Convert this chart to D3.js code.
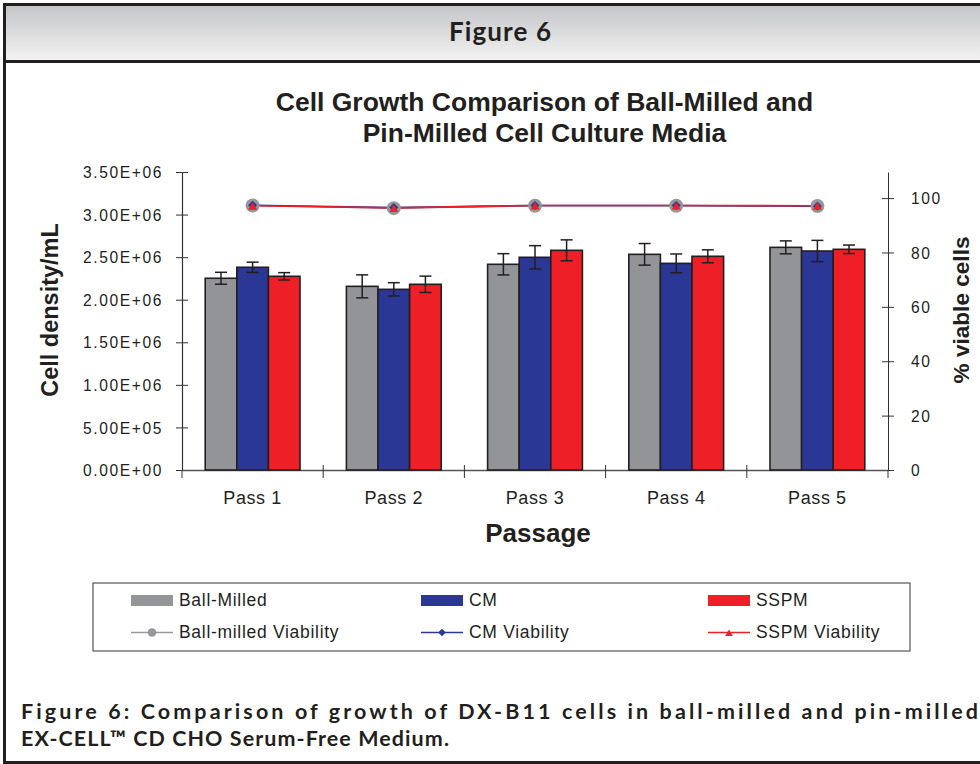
<!DOCTYPE html>
<html><head><meta charset="utf-8">
<script src="https://cdn.jsdelivr.net/npm/d3@7"></script>
<style>body{margin:0;background:#fff}svg{display:block}</style>
</head><body>
<svg id="c" width="980" height="764"></svg>
<script>
const categories = ["Pass 1","Pass 2","Pass 3","Pass 4","Pass 5"];
const seriesNames = ["Ball-Milled","CM","SSPM"];
const ballMilled = [2.252e6, 2.157e6, 2.416e6, 2.533e6, 2.615e6];
const cm         = [2.381e6, 2.122e6, 2.498e6, 2.427e6, 2.572e6];
const sspm       = [2.275e6, 2.181e6, 2.580e6, 2.510e6, 2.592e6];
const ballErr = [0.070e6, 0.135e6, 0.125e6, 0.127e6, 0.076e6];
const cmErr   = [0.060e6, 0.078e6, 0.137e6, 0.110e6, 0.125e6];
const sspmErr = [0.043e6, 0.096e6, 0.123e6, 0.076e6, 0.050e6];
const ballViab = [97.3, 96.3, 97.2, 97.2, 97.1];
const cmViab   = [97.4, 96.5, 97.3, 97.3, 97.0];
const sspmViab = [97.2, 96.4, 97.3, 97.3, 97.2];
const leftTicks = [0, 5e5, 1e6, 1.5e6, 2e6, 2.5e6, 3e6, 3.5e6];
const leftTickLabels = ["0.00E+00","5.00E+05","1.00E+06","1.50E+06","2.00E+06","2.50E+06","3.00E+06","3.50E+06"];
const rightTicks = [0,20,40,60,80,100];
const viabNames = ["Ball-milled Viability","CM Viability","SSPM Viability"];

const colors = ["#939498","#2b3795","#ee1f26"];
const svg = d3.select("#c");
const dark = "#231f20";

// frame & header
const grad = svg.append("defs").append("linearGradient").attr("id","hg").attr("x1",0).attr("y1",0).attr("x2",0).attr("y2",1);
grad.append("stop").attr("offset","0%").attr("stop-color","#c3c4c6");
grad.append("stop").attr("offset","100%").attr("stop-color","#f3f3f3");
svg.append("rect").attr("x",4).attr("y",4).attr("width",980).attr("height",57).attr("fill","url(#hg)");
svg.append("line").attr("x1",4).attr("x2",980).attr("y1",4.5).attr("y2",4.5).attr("stroke",dark).attr("stroke-width",3);
svg.append("line").attr("x1",4).attr("x2",980).attr("y1",61.5).attr("y2",61.5).attr("stroke",dark).attr("stroke-width",3);
svg.append("line").attr("x1",4.5).attr("x2",4.5).attr("y1",3).attr("y2",763).attr("stroke",dark).attr("stroke-width",3);
svg.append("line").attr("x1",3).attr("x2",980).attr("y1",762.5).attr("y2",762.5).attr("stroke",dark).attr("stroke-width",3);
svg.append("text").attr("x",449).attr("y",41).attr("textLength",102).attr("lengthAdjust","spacing")
  .attr("font-family","Lato").attr("font-weight","bold").attr("font-size",26).attr("fill",dark).text("Figure 6");

// chart
const x0 = d3.scaleBand().domain(categories).range([182,888]).paddingInner(0);
const yL = d3.scaleLinear().domain([0,3.5e6]).range([470,172]);
const yR = d3.scaleLinear().domain([0,109.6]).range([470,172]);
const bw = 31.6;
const x1 = d3.scaleBand().domain(seriesNames).range([0, bw*3]);

const font = "Liberation Sans, Arial, sans-serif";
svg.append("text").attr("x",544.5).attr("y",110.5).attr("text-anchor","middle").attr("font-family",font)
  .attr("font-weight","bold").attr("font-size",26.5).attr("fill",dark).text("Cell Growth Comparison of Ball-Milled and");
svg.append("text").attr("x",544.5).attr("y",141.5).attr("text-anchor","middle").attr("font-family",font)
  .attr("font-weight","bold").attr("font-size",26.5).attr("fill",dark).text("Pin-Milled Cell Culture Media");

// axes
const axL = d3.axisLeft(yL).tickValues(leftTicks).tickFormat((d,i)=>leftTickLabels[i]).tickSizeInner(6).tickSizeOuter(0).tickPadding(13);
const gL = svg.append("g").attr("transform","translate(182,0)").call(axL);
gL.selectAll(".tick line").attr("x2",-6).attr("x1",6);
gL.selectAll("text").attr("dy","0.36em").attr("letter-spacing",1.6);
const axR = d3.axisRight(yR).tickValues(rightTicks).tickSizeInner(6).tickSizeOuter(0).tickPadding(17);
const gR = svg.append("g").attr("transform","translate(888,0)").call(axR);
gR.selectAll(".tick line").attr("x1",-6).attr("x2",6);
gR.selectAll("text").attr("dy","0.36em").attr("letter-spacing",1.6);
const axB = d3.axisBottom(x0).tickSize(0).tickPadding(20);
const gB = svg.append("g").attr("transform","translate(0,470)").call(axB);
[gL,gR].forEach(g=>{
  g.selectAll("text").attr("font-family",font).attr("font-size",15.6).attr("fill",dark);
});
[gL,gR,gB].forEach(g=>g.selectAll("line,path").attr("stroke","#333"));
gB.selectAll("text").attr("font-family",font).attr("font-size",18).attr("fill",dark)
  .attr("letter-spacing",0.6).attr("dy",0).attr("y",34);
gB.select(".domain").attr("stroke","#555").attr("stroke-width",1.5);
gL.select(".domain").attr("stroke-width",1.2);
// category boundary ticks
svg.append("g").selectAll("line").data(categories.slice(1)).join("line")
  .attr("x1",d=>x0(d)).attr("x2",d=>x0(d)).attr("y1",465).attr("y2",478).attr("stroke","#333");
svg.append("line").attr("x1",182).attr("x2",182).attr("y1",470).attr("y2",478).attr("stroke","#333");
svg.append("line").attr("x1",888).attr("x2",888).attr("y1",470).attr("y2",478).attr("stroke","#333");

svg.append("text").attr("transform","translate(58,310) rotate(-90)").attr("text-anchor","middle")
  .attr("font-family",font).attr("font-weight","bold").attr("font-size",23.5).attr("fill",dark).text("Cell density/mL");
svg.append("text").attr("transform","translate(969,310) rotate(-90)").attr("text-anchor","middle")
  .attr("font-family",font).attr("font-weight","bold").attr("font-size",22.6).attr("fill",dark).text("% viable cells");
svg.append("text").attr("x",538).attr("y",542).attr("text-anchor","middle")
  .attr("font-family",font).attr("font-weight","bold").attr("font-size",26).attr("fill",dark).text("Passage");

// bars
const vals = [ballMilled, cm, sspm];
const errs = [ballErr, cmErr, sspmErr];
const gBars = svg.append("g");
seriesNames.forEach((s,si)=>{
  categories.forEach((c,ci)=>{
    const xs = x0(c) + (x0.bandwidth()-bw*3)/2 + x1(s);
    gBars.append("rect").attr("x",xs).attr("y",yL(vals[si][ci])).attr("width",bw).attr("height",yL(0)-yL(vals[si][ci]))
      .attr("fill",colors[si]).attr("stroke",dark).attr("stroke-width",1.6);
  });
});
// error bars
seriesNames.forEach((s,si)=>{
  categories.forEach((c,ci)=>{
    const cx = x0(c) + (x0.bandwidth()-bw*3)/2 + x1(s) + bw/2;
    const hi = yL(vals[si][ci]+errs[si][ci]), lo = yL(vals[si][ci]-errs[si][ci]);
    const g = gBars.append("g").attr("stroke",dark).attr("stroke-width",1.5);
    g.append("line").attr("x1",cx).attr("x2",cx).attr("y1",hi).attr("y2",lo);
    g.append("line").attr("x1",cx-6).attr("x2",cx+6).attr("y1",hi).attr("y2",hi);
    g.append("line").attr("x1",cx-6).attr("x2",cx+6).attr("y1",lo).attr("y2",lo);
  });
});

// viability lines
const viabs = [ballViab, cmViab, sspmViab];
const lineColors = ["#9a9b9e","#2b3795","#ee1f26"];
const line = d3.line().x((d,i)=>x0(categories[i])+x0.bandwidth()/2).y(d=>yR(d));
viabs.forEach((v,vi)=>{
  svg.append("path").datum(v).attr("d",line).attr("fill","none").attr("stroke",lineColors[vi]).attr("stroke-width",1.6);
});
function marker(g, type, cx, cy, scale){
  if(type===0) g.append("circle").attr("cx",cx).attr("cy",cy).attr("r",7*scale).attr("fill","#96979b");
  else if(type===1) g.append("path").attr("d",`M${cx},${cy-4.5*scale}L${cx+4.5*scale},${cy}L${cx},${cy+4.5*scale}L${cx-4.5*scale},${cy}Z`).attr("fill","#2b3795");
  else g.append("path").attr("d",`M${cx},${cy-3.5*scale}L${cx+4.5*scale},${cy+4*scale}L${cx-4.5*scale},${cy+4*scale}Z`).attr("fill","#ee1f26");
}
const gM = svg.append("g");
viabs.forEach((v,vi)=>{
  v.forEach((d,i)=>marker(gM, vi, x0(categories[i])+x0.bandwidth()/2, yR(d), 1));
});

// legend
svg.append("rect").attr("x",93).attr("y",583).attr("width",817).attr("height",68).attr("fill","#fff").attr("stroke","#555").attr("stroke-width",1.2);
const legX = [131, 421, 708];
const lg = svg.append("g");
seriesNames.forEach((s,i)=>{
  lg.append("rect").attr("x",legX[i]).attr("y",595).attr("width",42).attr("height",11).attr("fill",colors[i]);
  lg.append("text").attr("x",legX[i]+48).attr("y",605.5).attr("font-family",font).attr("font-size",17.5).attr("letter-spacing",0.7).attr("fill",dark).text(s);
  lg.append("line").attr("x1",legX[i]).attr("x2",legX[i]+42).attr("y1",632.5).attr("y2",632.5).attr("stroke",lineColors[i]).attr("stroke-width",1.6);
  marker(lg, i, legX[i]+21, 632.5, i===0?0.62:0.85);
  lg.append("text").attr("x",legX[i]+48).attr("y",637.5).attr("font-family",font).attr("font-size",17.5).attr("letter-spacing",0.7).attr("fill",dark).text(viabNames[i]);
});

// caption
svg.append("text").attr("x",21).attr("y",719).attr("font-family","Lato").attr("font-weight","bold").attr("font-size",21.5)
  .attr("fill",dark).attr("textLength",957).attr("lengthAdjust","spacing")
  .text("Figure 6: Comparison of growth of DX-B11 cells in ball-milled and pin-milled");
svg.append("text").attr("x",21).attr("y",746).attr("font-family","Lato").attr("font-weight","bold").attr("font-size",21.5)
  .attr("fill",dark).attr("textLength",428).attr("lengthAdjust","spacing")
  .text("EX-CELL™ CD CHO Serum-Free Medium.");
</script>
</body></html>
